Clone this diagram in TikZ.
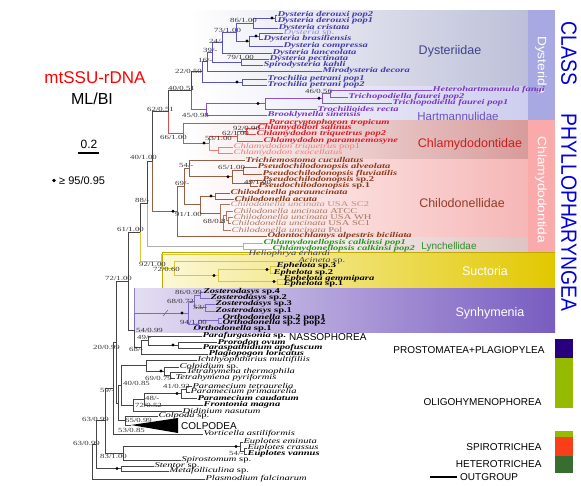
\documentclass[tikz,border=0pt]{standalone}
\usepackage{fontspec}
\usepackage{graphicx}
\setmainfont{Liberation Serif}
\newfontfamily\lf{Liberation Serif}
\newfontfamily\sff{Liberation Sans}
\newfontfamily\sfw[FakeStretch=1.12]{Liberation Sans}
\newfontfamily\sffc[FakeStretch=0.88]{Liberation Sans}
\newcommand\BI[1]{\textbf{\textit{#1}}}
\newcommand\IT[1]{\textit{#1}}
\newcommand\hs[1]{\scalebox{1.42}[1]{#1}}
\newcommand\hv[1]{\scalebox{1.4}[1]{#1}}
\definecolor{dysC}{RGB}{65,60,170}
\definecolor{dysL}{RGB}{90,85,185}
\definecolor{dysLight}{RGB}{140,140,215}
\definecolor{harC}{RGB}{120,55,190}
\definecolor{harL}{RGB}{140,80,210}
\definecolor{chlC}{RGB}{215,30,40}
\definecolor{chlL}{RGB}{215,80,80}
\definecolor{chlLight}{RGB}{240,125,125}
\definecolor{chiC}{RGB}{135,60,30}
\definecolor{chiL}{RGB}{150,95,70}
\definecolor{chiLight}{RGB}{165,120,100}
\definecolor{lynC}{RGB}{40,150,30}
\definecolor{lynL}{RGB}{175,175,175}
\definecolor{sucL}{RGB}{215,200,60}
\definecolor{synL}{RGB}{125,105,205}
\definecolor{bbL}{RGB}{70,70,70}
\definecolor{bgDys}{RGB}{188,191,216}
\definecolor{bgHar}{RGB}{205,205,238}
\definecolor{bgChl}{RGB}{215,155,155}
\definecolor{bgChi}{RGB}{246,182,182}
\definecolor{bgLyn}{RGB}{222,196,196}
\definecolor{bgSuc}{RGB}{226,200,0}
\definecolor{bgSucL}{RGB}{252,248,215}
\definecolor{bgSyn}{RGB}{120,92,192}
\definecolor{bgSynL}{RGB}{228,222,242}
\definecolor{bandDys}{RGB}{168,168,226}
\definecolor{bandChl}{RGB}{250,170,170}
\definecolor{classBlue}{RGB}{0,0,225}
\definecolor{navyC}{RGB}{38,0,125}
\definecolor{limeC}{RGB}{150,186,0}
\definecolor{redC}{RGB}{250,62,25}
\definecolor{dgreenC}{RGB}{55,110,48}
\begin{document}
\begin{tikzpicture}[x=1pt,y=-1pt,
  lf/.style={anchor=west, inner sep=0.3pt, font=\lf\fontsize{7.4}{7.4}\selectfont},
  supl/.style={anchor=west, inner sep=0pt, font=\lf\fontsize{6.3}{6.3}\selectfont, text=black!80},
  edge/.style={line width=0.6pt},
  bb/.style={edge, draw=bbL},
  dy/.style={edge, draw=dysL},
  ha/.style={edge, draw=harL},
  ch/.style={edge, draw=chlL},
  chl/.style={edge, draw=chlLight},
  ki/.style={edge, draw=chiL},
  kil/.style={edge, draw=chiLight},
  ly/.style={edge, draw=lynL},
  su/.style={edge, draw=sucL},
  sy/.style={edge, draw=synL},
  dot/.style={fill=black},
  famlab/.style={font=\sff\fontsize{12.5}{12.5}\selectfont},
  clslab/.style={anchor=east, font=\sff\fontsize{10}{10}\selectfont},
  bandlab/.style={rotate=-90, text=white, font=\sfw\fontsize{12.2}{12.2}\selectfont}
]
\useasboundingbox (0,0) rectangle (581,485);
\fill[white] (0,0) rectangle (581,485);
% backgrounds
\shade[left color=white, right color=bgDys] (190,10) rectangle (528,86);
\shade[left color=white, right color=bgHar] (200,86) rectangle (528,120);
\shade[left color=white, right color=bgChl] (185,120) rectangle (528,159);
\shade[left color=white, right color=bgChi] (185,159) rectangle (528,237);
\shade[left color=white, right color=bgLyn] (240,237) rectangle (528,252);
\fill[bandDys] (528,10) rectangle (555,120);
\fill[bandChl] (528,120) rectangle (555,252);
\shade[left color=bgSucL, right color=bgSuc] (162,252) rectangle (555,288);
\draw[bgSuc!85!black, line width=0.5pt] (555,252) -- (162,252) -- (162,288);
\shade[left color=bgSynL, right color=bgSyn] (134,288) rectangle (555,332);
\draw[bgSyn!80, line width=0.5pt] (134,332) -- (134,288);
% family labels
\node[famlab, text={rgb,255:red,65;green,65;blue,140}] (fDys) at (450,51) {Dysteriidae};
\node[famlab, font=\sff\fontsize{11.5}{11.5}\selectfont, text={rgb,255:red,110;green,80;blue,190}] (fHar) at (458,116) {Hartmannulidae};
\node[famlab, text={rgb,255:red,205;green,30;blue,30}] (fChl) at (470,144) {Chlamydodontidae};
\node[famlab, text={rgb,255:red,150;green,60;blue,40}] (fChi) at (462,203) {Chilodonellidae};
\node[famlab, font=\sff\fontsize{10}{10}\selectfont, text={rgb,255:red,50;green,140;blue,40}] (fLyn) at (449,247) {Lynchellidae};
\node[famlab, text=white] (fSuc) at (485,271) {Suctoria};
\node[famlab, text=white] (fSyn) at (490,313) {Synhymenia};
\node[bandlab] (bDys) at (541,65) {Dysterida};
\node[bandlab] (bChl) at (541,190) {Chlamydodontida};
\node[rotate=-90, text=classBlue, font=\sffc\fontsize{22}{22}\selectfont] (cls1) at (569,53.5) {CLASS};
\node[rotate=-90, text=classBlue, font=\sffc\fontsize{22}{22}\selectfont] (cls2) at (569,212.5) {PHYLLOPHARYNGEA};
% title and legend
\node[text=red, font=\sff\fontsize{17}{17}\selectfont] (title) at (95,78) {mtSSU-rDNA};
\node[font=\sff\fontsize{16}{16}\selectfont] (mlbi) at (92,99) {ML/BI};
\node[font=\sff\fontsize{12}{12}\selectfont] (scl) at (89,144) {0.2};
\coordinate (sbA) at (78,153); \coordinate (sbB) at (99,153);
\draw[line width=1.5pt] (sbA) -- (sbB);
\fill (54,180.5) circle (1.8);
\node[anchor=west, inner sep=0pt, font=\sff\fontsize{11}{11}\selectfont] (leg) at (59,181) {≥ 95/0.95};
% class boxes and labels
\fill[navyC] (555,339) rectangle (573,358);
\fill[limeC] (555,358) rectangle (573,408);
\fill[limeC] (555,431) rectangle (573,437);
\fill[redC] (555,437) rectangle (573,456);
\fill[dgreenC] (555,456) rectangle (573,473);
\node[anchor=west, inner sep=0pt, font=\sff\fontsize{10}{10}\selectfont] (nas) at (289,337) {NASSOPHOREA};
\node[clslab] (pro) at (548,350) {PROSTOMATEA+PLAGIOPYLEA};
\node[clslab] (oli) at (545,402) {OLIGOHYMENOPHOREA};
\node[clslab] (spi) at (545,447) {SPIROTRICHEA};
\node[clslab] (het) at (545,464) {HETEROTRICHEA};
\coordinate (ogA) at (430,477); \coordinate (ogB) at (457,477);
\draw[line width=1.3pt] (ogA) -- (ogB);
\node[anchor=west, inner sep=0pt, font=\sff\fontsize{10}{10}\selectfont] (og) at (460,477) {OUTGROUP};
% ---------- leaves ----------
\node[lf,text=dysC] (d1) at (277,15) {\hs{\BI{Dysteria derouxi pop2}}};
\node[lf,text=dysC] (d2) at (277,21) {\hs{\BI{Dysteria derouxi pop1}}};
\node[lf,text=dysC] (d3) at (278,28) {\hs{\BI{Dysteria cristata}}};
\node[lf,text=dysLight] (d4) at (283,33) {\hs{\IT{Dysteria} sp.}};
\node[lf,text=dysC] (d5) at (263,39) {\hs{\BI{Dysteria brasiliensis}}};
\node[lf,text=dysC] (d6) at (283,46) {\hs{\BI{Dysteria compressa}}};
\node[lf,text=dysC] (d7) at (272,53) {\hs{\BI{Dysteria lanceolata}}};
\node[lf,text=dysC] (d8) at (269,59) {\hs{\BI{Dysteria pectinata}}};
\node[lf,text=dysC] (d9) at (263,65) {\hs{\BI{Spirodysteria kahli}}};
\node[lf,text=dysC] (d10) at (322,71) {\hs{\BI{Mirodysteria decora}}};
\node[lf,text=dysC] (d11) at (267,79) {\hs{\BI{Trochilia petrani pop1}}};
\node[lf,text=dysC] (d12) at (267,85) {\hs{\BI{Trochilia petrani pop2}}};
\node[lf,text=harC] (h1) at (432,90) {\hs{\BI{Heterohartmannula fangi}}};
\node[lf,text=harC] (h2) at (348,97) {\hs{\BI{Trichopodiella faurei pop2}}};
\node[lf,text=harC] (h3) at (392,103) {\hs{\BI{Trichopodiella faurei pop1}}};
\node[lf,text=harC] (h4) at (317,109) {\hs{\BI{Trochilioides recta}}};
\node[lf,text=harC] (h5) at (267,115) {\hs{\BI{Brooklynella sinensis}}};
\node[lf,text=chlC] (c1) at (268,123) {\hs{\BI{Paracryptophoron tropicum}}};
\node[lf,text=chlC] (c2) at (257,128) {\hs{\BI{Chlamydodon salinus}}};
\node[lf,text=chlC] (c3) at (256,134) {\hs{\BI{Chlamydodon triquetrus pop2}}};
\node[lf,text=chlC] (c4) at (263,141) {\hs{\BI{Chlamydodon paramnemosyne}}};
\node[lf,text=chlLight] (c5) at (233,147) {\hs{\IT{Chlamydodon triquetrus} pop1}};
\node[lf,text=chlLight] (c6) at (233,153) {\hs{\IT{Chlamydodon exocellatus}}};
\node[lf,text=chiC] (k1) at (245,160) {\hs{\BI{Trichiemostoma cucullatus}}};
\node[lf,text=chiC] (k2) at (257,167) {\hs{\BI{Pseudochilodonopsis alveolata}}};
\node[lf,text=chiC] (k3) at (262,174) {\hs{\BI{Pseudochilodonopsis fluviatilis}}};
\node[lf,text=chiC] (k4) at (262,180) {\hs{\BI{Pseudochilodonopsis} \textbf{sp.2}}};
\node[lf,text=chiC] (k5) at (258,186) {\hs{\BI{Pseudochilodonopsis} \textbf{sp.1}}};
\node[lf,text=chiC] (k6) at (230,193) {\hs{\BI{Chilodonella parauncinata}}};
\node[lf,text=chiC] (k7) at (234,199) {\hs{\BI{Chilodonella acuta}}};
\node[lf,text=chiLight!80] (k8) at (230,204) {\hs{\IT{Chilodonella uncinata} USA SC2}};
\node[lf,text=chiLight] (k9) at (233,211) {\hs{\IT{Chilodonella uncinata} ATCC}};
\node[lf,text=chiLight] (k10) at (233,217) {\hs{\IT{Chilodonella uncinata} USA WH}};
\node[lf,text=chiLight] (k11) at (231,223) {\hs{\IT{Chilodonella uncinata} USA SC1}};
\node[lf,text=chiLight] (k12) at (231,230) {\hs{\IT{Chilodonella uncinata} Pol}};
\node[lf,text=chiC] (k13) at (267,236) {\hs{\BI{Odontochlamys alpestris biciliata}}};
\node[lf,text=lynC] (l1) at (263,243) {\hs{\BI{Chlamydonellopsis calkinsi pop1}}};
\node[lf,text=lynC] (l2) at (272,249) {\hs{\BI{Chlamydonellopsis calkinsi pop2}}};
\node[lf,text=black!75] (s1) at (248,254) {\hs{\IT{Heliophrya erhardi}}};
\node[lf,text=black!75] (s2) at (298,261) {\hs{\IT{Acineta} sp.}};
\node[lf] (s3) at (276,266) {\hs{\BI{Ephelota} \textbf{sp.3}}};
\node[lf] (s4) at (273,273) {\hs{\BI{Ephelota} \textbf{sp.2}}};
\node[lf] (s5) at (283,279) {\hs{\BI{Ephelota gemmipara}}};
\node[lf] (s6) at (283,284) {\hs{\BI{Ephelota} \textbf{sp.1}}};
\node[lf] (z1) at (203,292) {\hs{\BI{Zosterodasys} \textbf{sp.4}}};
\node[lf] (z2) at (210,298) {\hs{\BI{Zosterodasys} \textbf{sp.2}}};
\node[lf] (z3) at (215,304) {\hs{\BI{Zosterodasys} \textbf{sp.3}}};
\node[lf] (z4) at (215,311) {\hs{\BI{Zosterodasys} \textbf{sp.1}}};
\node[lf] (z5) at (222,318) {\hs{\BI{Orthodonella} \textbf{sp.2 pop1}}};
\node[lf] (z6) at (222,323) {\hs{\BI{Orthodonella} \textbf{sp.2 pop2}}};
\node[lf] (z7) at (193,329) {\hs{\BI{Orthodonella} \textbf{sp.1}}};
\node[lf] (n1) at (202,336) {\hs{\BI{Parafurgasonia} \textbf{sp.}}};
\node[lf] (n2) at (217,342) {\hs{\BI{Prorodon ovum}}};
\node[lf] (n3) at (202,348) {\hs{\BI{Paraspathidium apofuscum}}};
\node[lf] (n4) at (208,354) {\hs{\BI{Plagiopogon loricatus}}};
\node[lf] (o1) at (197,360) {\hs{\IT{Ichthyophthirius multifiliis}}};
\node[lf] (o2) at (179,367) {\hs{\IT{Colpidium} sp.}};
\node[lf] (o3) at (186,372) {\hs{\IT{Tetrahymena thermophila}}};
\node[lf] (o4) at (175,378) {\hs{\IT{Tetrahymena pyriformis}}};
\node[lf] (o5) at (192,386) {\hs{\IT{Paramecium tetraurelia}}};
\node[lf] (o6) at (190,392) {\hs{\IT{Paramecium primaurelia}}};
\node[lf] (o7) at (197,398) {\hs{\BI{Paramecium caudatum}}};
\node[lf] (o8) at (203,405) {\hs{\BI{Frontonia magna}}};
\node[lf] (o9) at (182,411) {\hs{\IT{Didinium nasutum}}};
\node[lf] (o10) at (158,416) {\hs{\IT{Colpoda} sp.}};
\node[anchor=west, inner sep=0pt, font=\sff\fontsize{10}{10}\selectfont] (colp) at (181,426) {COLPODEA};
\node[lf] (o11) at (203,434) {\hs{\IT{Vorticella astiliformis}}};
\node[lf] (e1) at (243,442) {\hs{\IT{Euplotes eminuta}}};
\node[lf] (e2) at (247,448) {\hs{\IT{Euplotes crassus}}};
\node[lf] (e3) at (247,454) {\hs{\BI{Euplotes vannus}}};
\node[lf] (e4) at (181,460) {\hs{\IT{Spirostomum} sp.}};
\node[lf] (e5) at (154,466) {\hs{\IT{Stentor} sp.}};
\node[lf] (e6) at (169,471) {\hs{\IT{Metafolliculina} sp.}};
\node[lf] (e7) at (205,479) {\hs{\IT{Plasmodium falcinarum}}};
% ---------- internal nodes ----------
\coordinate (D1) at (275,18);
\coordinate (D2) at (253,23);
\coordinate (D3) at (259,36);
\coordinate (D4) at (249,41);
\coordinate (D5) at (236,32);
\coordinate (D24) at (222,42.5);
\coordinate (D79) at (241,62);
\coordinate (D39) at (212,52.25);
\coordinate (D16) at (207,61.5);
\coordinate (Tr) at (242,82);
\coordinate (N22) at (202,71.75);
\coordinate (H1) at (330,93.5);
\coordinate (H2) at (322,98.25);
\coordinate (H3) at (265,103.5);
\coordinate (H4) at (206,109.25);
\coordinate (N40a) at (191,90.5);
\coordinate (C1) at (246,131);
\coordinate (C2) at (237,136);
\coordinate (Cp) at (218,150);
\coordinate (C3) at (209,143);
\coordinate (C4) at (183,133);
\coordinate (N62) at (168,111.75);
\coordinate (P1) at (243,170.5);
\coordinate (P2) at (250,183);
\coordinate (P3) at (232,176.75);
\coordinate (N54) at (189,168.5);
\coordinate (Ch1) at (215,196);
\coordinate (U1) at (228,220);
\coordinate (U2) at (226,215.5);
\coordinate (U3) at (223,222.75);
\coordinate (U4) at (220,213.4);
\coordinate (ChC) at (200,204.7);
\coordinate (N69) at (184,186.6);
\coordinate (Chilo) at (177,211.3);
\coordinate (N40b) at (152,161.5);
\coordinate (L) at (243,246);
\coordinate (N88) at (147,203.75);
\coordinate (E1) at (270,269.5);
\coordinate (E2) at (277,281.5);
\coordinate (E3) at (218,275.5);
\coordinate (S72) at (174,268.25);
\coordinate (S92) at (161,261.1);
\coordinate (N61) at (140,232.4);
\coordinate (Z1) at (200,295);
\coordinate (Z2) at (205,307.5);
\coordinate (Z3) at (194,301.25);
\coordinate (O1) at (218,320.5);
\coordinate (O2) at (198,324.75);
\coordinate (SC) at (188,313);
\coordinate (PP) at (178,345);
\coordinate (N49) at (148,340.5);
\coordinate (N68) at (141,347.25);
\coordinate (N54b) at (134,330.1);
\coordinate (N72) at (128,281.25);
\coordinate (Tt) at (170,375);
\coordinate (Tc) at (164,371);
\coordinate (Ti) at (146,365.5);
\coordinate (Pm1) at (186,389);
\coordinate (Pm2) at (181,393.5);
\coordinate (Pm3) at (144,399.25);
\coordinate (P4) at (133,405.1);
\coordinate (N40c) at (121,385.3);
\coordinate (tip) at (131,425);
\coordinate (N65) at (125,420.5);
\coordinate (Y) at (118,402.9);
\coordinate (N20) at (116,342.1);
\coordinate (N59) at (113,388);
\coordinate (Eu1) at (244,451);
\coordinate (Eu2) at (240,446.5);
\coordinate (N83) at (123,453.25);
\coordinate (N63a) at (105,420.6);
\coordinate (Het) at (121,468.5);
\coordinate (N63b) at (96,444.5);
\coordinate (Root) at (92,461.8);
% ---------- edges ----------
\draw[dy] (D1) |- (d1.west); \draw[dy] (D1) |- (d2.west);
\draw[dy] (D2) |- (D1); \draw[dy] (D2) |- (d3.west);
\draw[dy] (D3) |- (d4.west); \draw[dy] (D3) |- (d5.west);
\draw[dy] (D4) |- (D3); \draw[dy] (D4) |- (d6.west);
\draw[dy] (D5) |- (D2); \draw[dy] (D5) |- (D4);
\draw[dy] (D24) |- (D5); \draw[dy] (D24) |- (d7.west);
\draw[dy] (D79) |- (d8.west); \draw[dy] (D79) |- (d9.west);
\draw[dy] (D39) |- (D24); \draw[dy] (D39) |- (D79);
\draw[dy] (D16) |- (D39); \draw[dy] (D16) |- (d10.west);
\draw[dy] (Tr) |- (d11.west); \draw[dy] (Tr) |- (d12.west);
\draw[dy] (N22) |- (D16); \draw[dy] (N22) |- (Tr);
\draw[ha] (H1) |- (h1.west); \draw[ha] (H1) |- (h2.west);
\draw[ha] (H2) |- (H1); \draw[ha] (H2) |- (h3.west);
\draw[ha] (H3) |- (H2); \draw[ha] (H3) |- (h4.west);
\draw[ha] (H4) |- (H3); \draw[ha] (H4) |- (h5.west);
\draw[bb] (N40a) |- (N22); \draw[ha] (N40a) |- (H4);
\draw[ch] (C1) |- (c2.west); \draw[ch] (C1) |- (c3.west);
\draw[ch] (C2) |- (C1); \draw[ch] (C2) |- (c4.west);
\draw[chl] (Cp) |- (c5.west); \draw[chl] (Cp) |- (c6.west);
\draw[chl] (C3) |- (Cp); \draw[ch] (C3) |- (C2);
\draw[ch] (C4) |- (c1.west); \draw[ch] (C4) |- (C3);
\draw[bb] (N62) |- (N40a); \draw[ch] (N62) |- (C4);
\draw[ki] (P1) |- (k2.west); \draw[ki] (P1) |- (k3.west);
\draw[ki] (P2) |- (k4.west); \draw[ki] (P2) |- (k5.west);
\draw[ki] (P3) |- (P1); \draw[ki] (P3) |- (P2);
\draw[ki] (N54) |- (k1.west); \draw[ki] (N54) |- (P3);
\draw[ki] (Ch1) |- (k6.west); \draw[ki] (Ch1) |- (k7.west);
\draw[kil] (U1) |- (k10.west); \draw[kil] (U1) |- (k11.west);
\draw[kil] (U2) |- (k9.west); \draw[kil] (U2) |- (U1);
\draw[kil] (U3) |- (U2); \draw[kil] (U3) |- (k12.west);
\draw[kil] (U4) |- (k8.west); \draw[kil] (U4) |- (U3);
\draw[ki] (ChC) |- (Ch1); \draw[ki] (ChC) |- (U4);
\draw[ki] (N69) |- (N54); \draw[ki] (N69) |- (ChC);
\draw[ki] (Chilo) |- (N69); \draw[ki] (Chilo) |- (k13.west);
\draw[bb] (N40b) |- (N62); \draw[ki] (N40b) |- (Chilo);
\draw[ly] (L) |- (l1.west); \draw[ly] (L) |- (l2.west);
\draw[bb] (N88) |- (N40b); \draw[ly] (N88) |- (L);
\draw[su] (E1) |- (s3.west); \draw[su] (E1) |- (s4.west);
\draw[su] (E2) |- (s5.west); \draw[su] (E2) |- (s6.west);
\draw[su] (E3) |- (E1); \draw[su] (E3) |- (E2);
\draw[su] (S72) |- (s2.west); \draw[su] (S72) |- (E3);
\draw[su] (S92) |- (s1.west); \draw[su] (S92) |- (S72);
\draw[bb] (N61) |- (N88); \draw[su] (N61) |- (S92);
\draw[sy] (Z1) |- (z1.west); \draw[sy] (Z1) |- (z2.west);
\draw[sy] (Z2) |- (z3.west); \draw[sy] (Z2) |- (z4.west);
\draw[sy] (Z3) |- (Z1); \draw[sy] (Z3) |- (Z2);
\draw[sy] (O1) |- (z5.west); \draw[sy] (O1) |- (z6.west);
\draw[sy] (O2) |- (O1); \draw[sy] (O2) |- (z7.west);
\draw[sy] (SC) |- (Z3); \draw[sy] (SC) |- (O2);
\draw[bb] (PP) |- (n2.west); \draw[bb] (PP) |- (n3.west);
\draw[bb] (N49) |- (n1.west); \draw[bb] (N49) |- (PP);
\draw[bb] (N68) |- (N49); \draw[bb] (N68) |- (n4.west);
\draw[sy] (N54b) |- (SC); \draw[bb] (N54b) |- (N68);
\draw[bb] (N72) |- (N61); \draw[bb] (N72) |- (N54b);
\draw[bb] (Tt) |- (o3.west); \draw[bb] (Tt) |- (o4.west);
\draw[bb] (Tc) |- (o2.west); \draw[bb] (Tc) |- (Tt);
\draw[bb] (Ti) |- (o1.west); \draw[bb] (Ti) |- (Tc);
\draw[bb] (Pm1) |- (o5.west); \draw[bb] (Pm1) |- (o6.west);
\draw[bb] (Pm2) |- (Pm1); \draw[bb] (Pm2) |- (o7.west);
\draw[bb] (Pm3) |- (Pm2); \draw[bb] (Pm3) |- (o8.west);
\draw[bb] (P4) |- (Pm3); \draw[bb] (P4) |- (o9.west);
\draw[bb] (N40c) |- (Ti); \draw[bb] (N40c) |- (P4);
\draw[bb] (N65) |- (o10.west); \draw[bb] (N65) |- (tip);
\fill[black] (tip) -- (178,418) -- (178,433) -- cycle;
\draw[bb] (Y) |- (N40c); \draw[bb] (Y) |- (N65);
\draw[bb] (N20) |- (N72); \draw[bb] (N20) |- (Y);
\draw[bb] (N59) |- (N20); \draw[bb] (N59) |- (o11.west);
\draw[bb] (Eu1) |- (e2.west); \draw[bb] (Eu1) |- (e3.west);
\draw[bb] (Eu2) |- (e1.west); \draw[bb] (Eu2) |- (Eu1);
\draw[bb] (N83) |- (Eu2); \draw[bb] (N83) |- (e4.west);
\draw[bb] (N63a) |- (N59); \draw[bb] (N63a) |- (N83);
\draw[bb] (Het) |- (e5.west); \draw[bb] (Het) |- (e6.west);
\draw[bb] (N63b) |- (N63a); \draw[bb] (N63b) |- (Het);
\draw[bb] (Root) |- (N63b); \draw[bb] (Root) |- (e7.west);
% branch break mark
\draw[synL!80!black, line width=0.5pt] (163,316) -- (168,310);
% dots
\foreach \px/\py in {272/18, 256/36, 247/41, 237/82, 319/98.25, 258/103.5, 204/143, 228/176.75, 211/196, 173/211.3, 267/269.5, 274/281.5, 214/275.5, 182/313, 173/345, 161/371, 177/393.5, 236/446.5, 117/468.5}
  \fill[dot] (\px,\py) circle (1.6);
% support values
\node[supl] (v1) at (230,20) {\hv{86/1.00}};
\node[supl] (v2) at (214,30) {\hv{73/1.00}};
\node[supl] (v3) at (209,41) {\hv{24/-}};
\node[supl] (v4) at (203,50) {\hv{39/-}};
\node[supl] (v5) at (227,57) {\hv{79/1.00}};
\node[supl] (v6) at (198,60) {\hv{16/-}};
\node[supl] (v7) at (175,71) {\hv{22/0.50}};
\node[supl] (v8) at (168,88) {\hv{40/0.51}};
\node[supl] (v9) at (305,91) {\hv{46/0.56}};
\node[supl] (v10) at (182,115) {\hv{45/0.98}};
\node[supl] (v11) at (147,109) {\hv{62/0.51}};
\node[supl] (v12) at (233,128) {\hv{92/0.96}};
\node[supl] (v13) at (222,133) {\hv{62/1.00}};
\node[supl] (v14) at (205,138) {\hv{53/1.00}};
\node[supl] (v15) at (160,137) {\hv{66/1.00}};
\node[supl] (v16) at (130,157) {\hv{40/1.00}};
\node[supl] (v17) at (179,165) {\hv{54/-}};
\node[supl] (v18) at (218,167) {\hv{65/1.00}};
\node[supl] (v19) at (244,182) {\hv{49/1.00}};
\node[supl] (v20) at (175,183) {\hv{69/-}};
\node[supl] (v21) at (135,200) {\hv{88/-}};
\node[supl] (v22) at (175,214) {\hv{91/1.00}};
\node[supl] (v23) at (203,221) {\hv{68/0.8}};
\node[supl] (v24) at (117,229) {\hv{61/1.00}};
\node[supl] (v25) at (139,264) {\hv{92/1.00}};
\node[supl] (v26) at (153,269) {\hv{72/0.60}};
\node[supl] (v27) at (105,278) {\hv{72/1.00}};
\node[supl] (v28) at (175,292) {\hv{86/0.99}};
\node[supl] (v29) at (167,301) {\hv{68/0.72}};
\node[supl] (v30) at (193,307) {\hv{53/-}};
\node[supl] (v31) at (180,322) {\hv{94/1.00}};
\node[supl] (v32) at (136,330) {\hv{54/0.99}};
\node[supl] (v33) at (137,337) {\hv{49/-}};
\node[supl] (v34) at (93,347) {\hv{20/0.99}};
\node[supl] (v35) at (129,349) {\hv{68/-}};
\node[supl] (v36) at (145,378) {\hv{69/0.79}};
\node[supl] (v37) at (123,383) {\hv{40/0.85}};
\node[supl] (v38) at (163,386) {\hv{41/0.92}};
\node[supl] (v39) at (100,390) {\hv{59/-}};
\node[supl] (v40) at (145,398) {\hv{48/-}};
\node[supl] (v41) at (135,405) {\hv{72/0.52}};
\node[supl] (v42) at (125,420) {\hv{65/0.99}};
\node[supl] (v43) at (82,419) {\hv{63/0.99}};
\node[supl] (v44) at (118,430) {\hv{53/0.85}};
\node[supl] (v45) at (73,443) {\hv{63/0.99}};
\node[supl] (v46) at (229,453) {\hv{54/-}};
\node[supl] (v47) at (100,456) {\hv{83/1.00}};
\end{tikzpicture}
\end{document}
